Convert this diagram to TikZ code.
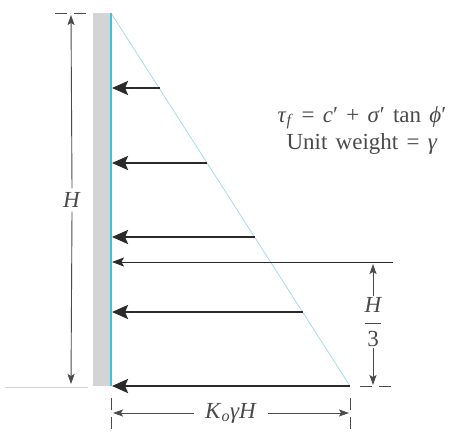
\documentclass[tikz,border=0pt]{standalone}
\usepackage{fontspec}
\setmainfont{Liberation Serif}
\usetikzlibrary{arrows.meta}
\definecolor{wallgray}{HTML}{D4D4D4}
\definecolor{facecyan}{HTML}{3EC3DD}
\definecolor{hypcyan}{HTML}{A6DCE8}
\definecolor{forcecol}{HTML}{2A2A2A}
\definecolor{dimcol}{HTML}{4A4A4A}
\begin{document}
\begin{tikzpicture}[x=1pt,y=-1pt,
  force/.style={draw=forcecol,line width=2.5pt,-{Stealth[length=16pt,width=14pt,inset=3pt]}},
  resultant/.style={draw=forcecol,line width=0.9pt,-{Stealth[length=12pt,width=9pt,inset=2.5pt]}},
  dimarrow/.style={draw=dimcol,line width=0.9pt,-{Stealth[length=10pt,width=7pt,inset=2pt]}},
  ticks/.style={draw=dimcol,line width=0.9pt,dash pattern=on 12pt off 7pt},
  lbl/.style={text=dimcol,font=\fontsize{23}{27}\selectfont,inner sep=1pt}]
\useasboundingbox (0,0) rectangle (455,432);
% wall
\fill[wallgray] (93,13) rectangle (110,386);
\coordinate (top) at (111,13);
\coordinate (bot) at (111,386);
\coordinate (toe) at (350,386);
\draw[hypcyan,line width=0.8pt] (top) -- (toe);
\draw[facecyan,line width=1.4pt] (top) -- (bot);
% force arrows
\coordinate (f1s) at (160,88);  \coordinate (f1e) at (112,88);
\coordinate (f2s) at (207,163); \coordinate (f2e) at (112,163);
\coordinate (f3s) at (255,237); \coordinate (f3e) at (112,237);
\coordinate (f4s) at (303,312); \coordinate (f4e) at (112,312);
\coordinate (f5s) at (350,386); \coordinate (f5e) at (112,386);
\draw[force] (f1s) -- (f1e);
\draw[force] (f2s) -- (f2e);
\draw[force] (f3s) -- (f3e);
\draw[force] (f4s) -- (f4e);
\draw[force] (f5s) -- (f5e);
% resultant
\coordinate (rs) at (393,262); \coordinate (re) at (112,262);
\draw[resultant] (rs) -- (re);
% text
\node[lbl,align=center] (eq) at (362,130) {\spaceskip=0.36em\relax\textit{τ}\textsubscript{\textit{f}} = \textit{c}′ + \textit{σ}′ tan \textit{ϕ}′\\\spaceskip=0.36em\relax Unit weight = \textit{γ}};
% H dimension
\draw[ticks] (55,13) -- (88,13);
\draw[gray!35,line width=0.8pt] (5,387) -- (88,387);
\node[lbl] (H) at (72,200) {\textit{H}};
\coordinate (Htop) at (71,15);
\coordinate (Hbot) at (71,384);
\draw[dimarrow] (H.north) ++(0,-3) -- (Htop);
\draw[dimarrow] (H.south) ++(0,3) -- (Hbot);
% H/3 dimension
\node[lbl] (H3) at (373,322) {$\displaystyle\frac{\mbox{\itshape H}}{\mbox{3}}$};
\coordinate (H3top) at (373,264);
\coordinate (H3bot) at (373,385);
\draw[dimarrow] (H3.north) -- (H3top);
\draw[dimarrow] (H3.south) -- (H3bot);
\draw[ticks] (360,386) -- (393,386);
% K0 gamma H dimension
\node[lbl] (K) at (231,413) {\textit{K}\textsubscript{\textit{o}}\textit{γH}};
\coordinate (Kl) at (113,413);
\coordinate (Kr) at (349,413);
\draw[dimarrow] (K.west) ++(-10,0) -- (Kl);
\draw[dimarrow] (K.east) ++(10,0) -- (Kr);
\draw[ticks] (111,398) -- (111,432);
\draw[ticks] (350,398) -- (350,432);
\end{tikzpicture}
\end{document}
